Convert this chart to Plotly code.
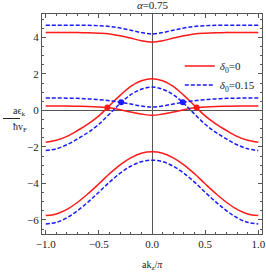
import plotly.graph_objects as go

k = [-1.0, -0.9, -0.8, -0.7, -0.6, -0.5, -0.4, -0.3, -0.2, -0.1, 0.0,
     0.1, 0.2, 0.3, 0.4, 0.5, 0.6, 0.7, 0.8, 0.9, 1.0]

# delta0 = 0 (red)
red_top = [4.26, 4.26, 4.26, 4.26, 4.25, 4.23, 4.19, 4.09, 3.96, 3.82, 3.75,
           3.82, 3.96, 4.09, 4.19, 4.23, 4.25, 4.26, 4.26, 4.26, 4.26]
red_flat = [0.24, 0.24, 0.24, 0.23, 0.22, 0.19, 0.14, 0.04, -0.09, -0.20, -0.27,
            -0.20, -0.09, 0.04, 0.14, 0.19, 0.22, 0.23, 0.24, 0.24, 0.24]
red_peak = [-1.74, -1.64, -1.42, -1.10, -0.74, -0.30, 0.26, 0.82, 1.32, 1.62, 1.74,
            1.62, 1.32, 0.82, 0.26, -0.30, -0.74, -1.10, -1.42, -1.64, -1.74]
red_low = [-5.76, -5.67, -5.42, -5.03, -4.55, -4.02, -3.47, -2.98, -2.60, -2.35, -2.27,
           -2.35, -2.60, -2.98, -3.47, -4.02, -4.55, -5.03, -5.42, -5.67, -5.76]

# delta0 = 0.15 (blue)
blue_top = [4.67, 4.67, 4.67, 4.67, 4.66, 4.64, 4.60, 4.51, 4.39, 4.26, 4.19,
            4.26, 4.39, 4.51, 4.60, 4.64, 4.66, 4.67, 4.67, 4.67, 4.67]
blue_flat = [0.68, 0.68, 0.67, 0.66, 0.63, 0.59, 0.53, 0.45, 0.35, 0.24, 0.18,
             0.24, 0.35, 0.45, 0.53, 0.59, 0.63, 0.66, 0.67, 0.68, 0.68]
blue_peak = [-2.20, -2.10, -1.88, -1.56, -1.20, -0.76, -0.20, 0.38, 0.86, 1.16, 1.28,
             1.16, 0.86, 0.38, -0.20, -0.76, -1.20, -1.56, -1.88, -2.10, -2.20]
blue_low = [-6.22, -6.13, -5.88, -5.49, -5.01, -4.48, -3.93, -3.44, -3.06, -2.81, -2.73,
            -2.81, -3.06, -3.44, -3.93, -4.48, -5.01, -5.49, -5.88, -6.13, -6.22]

red_dots_k = [-0.42, 0.42]
red_dots_e = [0.16, 0.16]
blue_dots_k = [-0.29, 0.29]
blue_dots_e = [0.44, 0.44]

x_tickvals = [-1, -0.5, 0, 0.5, 1]
x_ticktext = ["−1.0", "−0.5", "0.0", "0.5", "1.0"]
y_tickvals = [-6, -4, -2, 0, 2, 4]
y_ticktext = ["−6", "−4", "−2", "0", "2", "4"]

RED = "#ff1a1a"
BLUE = "#1a1aff"
FONT = "Liberation Serif"

W, H = 266, 273
ML, MR, MT, MB = 42, 4, 14, 39

fig = go.Figure()
for i, band in enumerate([red_top, red_flat, red_peak, red_low]):
    fig.add_trace(go.Scatter(x=k, y=band, mode="lines", line=dict(color=RED, width=1.5, shape="spline"),
                             name="<i>δ</i><sub>0</sub>=0", showlegend=(i == 0)))
for i, band in enumerate([blue_top, blue_flat, blue_peak, blue_low]):
    fig.add_trace(go.Scatter(x=k, y=band, mode="lines",
                             line=dict(color=BLUE, width=1.5, dash="4px,2px", shape="spline"),
                             name="<i>δ</i><sub>0</sub>=0.15", showlegend=(i == 0)))
fig.add_trace(go.Scatter(x=red_dots_k, y=red_dots_e, mode="markers",
                         marker=dict(color=RED, size=6), showlegend=False))
fig.add_trace(go.Scatter(x=blue_dots_k, y=blue_dots_e, mode="markers",
                         marker=dict(color=BLUE, size=6), showlegend=False))

axis_common = dict(showline=True, mirror="allticks", linecolor="#555", linewidth=1,
                   ticks="inside", ticklen=4, tickcolor="#555", showgrid=False,
                   zeroline=True, zerolinecolor="#555", zerolinewidth=1, automargin=False,
                   ticklabeloverflow="allow",
                   tickfont=dict(family=FONT, size=11, color="#222"))

fig.update_layout(
    width=W, height=H,
    margin=dict(l=ML, r=MR, t=MT, b=MB),
    paper_bgcolor="white", plot_bgcolor="white",
    font=dict(family=FONT, size=11, color="#222"),
    title=dict(text="<i>α</i>=0.75", x=152.5 / W, xanchor="center", y=1 - 1 / H, yanchor="top",
               font=dict(family=FONT, size=11, color="#222")),
    xaxis=dict(range=[-1.035, 1.035], tickvals=x_tickvals, ticktext=x_ticktext,
               minor=dict(dtick=0.1, ticks="inside", ticklen=2, tickcolor="#555"),
               **axis_common),
    yaxis=dict(range=[-6.77, 5.28], tickvals=y_tickvals, ticktext=y_ticktext,
               minor=dict(dtick=0.5, ticks="inside", ticklen=2, tickcolor="#555"),
               **axis_common),
    legend=dict(x=0.99, y=0.83, xanchor="right", yanchor="top", bgcolor="rgba(0,0,0,0)",
                font=dict(family=FONT, size=11, color="#222"), tracegroupgap=0,
                itemwidth=30),
)

pw = W - ML - MR
ph = H - MT - MB


def px_to_paper(px, py):
    return (px - ML) / pw, (H - MB - py) / ph


nx, ny = px_to_paper(11, 111)
fig.add_annotation(text="aϵ<sub>k</sub>", x=nx, y=ny, xref="paper", yref="paper",
                   showarrow=False, font=dict(family=FONT, size=10, color="#222"))
dx, dy = px_to_paper(11, 127)
fig.add_annotation(text="ħv<sub>F</sub>", x=dx, y=dy, xref="paper", yref="paper",
                   showarrow=False, font=dict(family=FONT, size=10, color="#222"))
xx, xy = px_to_paper(152.5, 265)
fig.add_annotation(text="ak<sub>z</sub>/<i>π</i>", x=xx, y=xy, xref="paper", yref="paper",
                   xanchor="center", yanchor="middle", showarrow=False,
                   font=dict(family=FONT, size=10, color="#222"))

lx0, ly = px_to_paper(3, 118.5)
lx1, _ = px_to_paper(20, 118.5)
fig.add_shape(type="line", xref="paper", yref="paper", x0=lx0, x1=lx1, y0=ly, y1=ly,
              line=dict(color="#222", width=1))

fig.write_html("out.html", config={"displayModeBar": False},
               post_script="document.body.style.margin='0';document.body.style.padding='0';")
